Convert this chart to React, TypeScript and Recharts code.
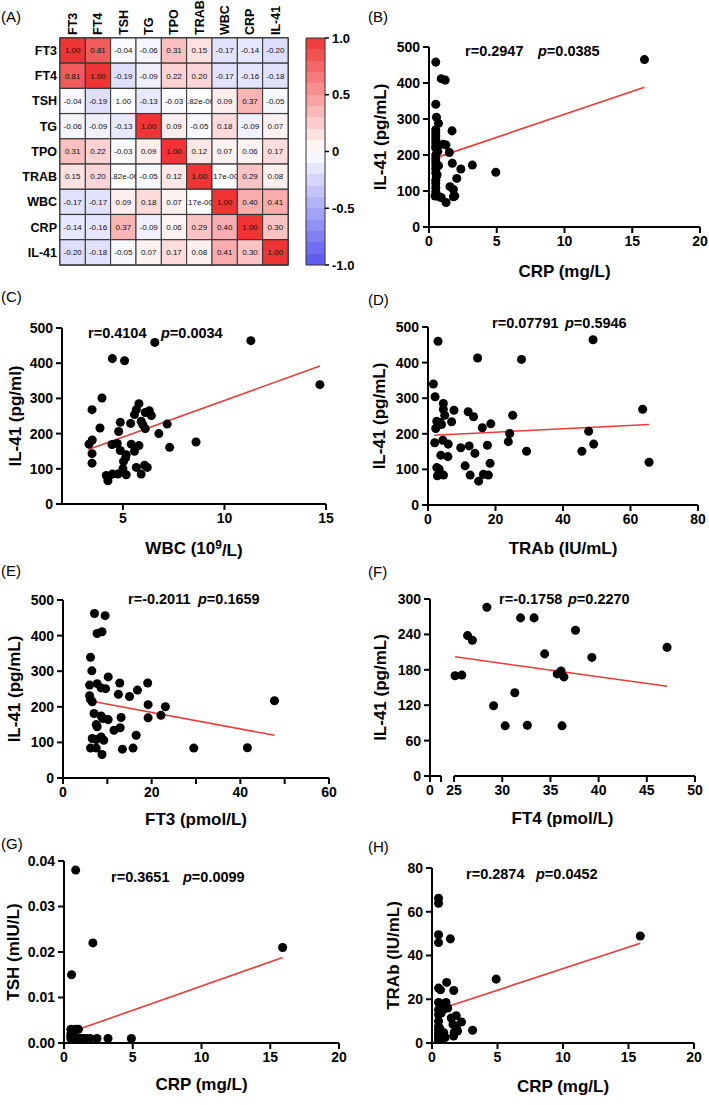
import React from 'react';
import {
  ScatterChart,
  Scatter,
  XAxis,
  YAxis,
  ReferenceLine,
  ReferenceArea,
  BarChart,
  Bar,
  Cell,
  LabelList,
} from 'recharts';

const FONT = 'Arial, "Liberation Sans", Helvetica, sans-serif';

type Pt = [number, number];

// (A) correlation matrix
const VARS = ['FT3', 'FT4', 'TSH', 'TG', 'TPO', 'TRAB', 'WBC', 'CRP', 'IL-41'];
const CORR = [
  [1.0, 0.81, -0.04, -0.06, 0.31, 0.15, -0.17, -0.14, -0.2],
  [0.81, 1.0, -0.19, -0.09, 0.22, 0.2, -0.17, -0.16, -0.18],
  [-0.04, -0.19, 1.0, -0.13, -0.03, -0.00182, 0.09, 0.37, -0.05],
  [-0.06, -0.09, -0.13, 1.0, 0.09, -0.05, 0.18, -0.09, 0.07],
  [0.31, 0.22, -0.03, 0.09, 1.0, 0.12, 0.07, 0.06, 0.17],
  [0.15, 0.2, -0.00182, -0.05, 0.12, 1.0, 0.00717, 0.29, 0.08],
  [-0.17, -0.17, 0.09, 0.18, 0.07, 0.00717, 1.0, 0.4, 0.41],
  [-0.14, -0.16, 0.37, -0.09, 0.06, 0.29, 0.4, 1.0, 0.3],
  [-0.2, -0.18, -0.05, 0.07, 0.17, 0.08, 0.41, 0.3, 1.0],
];
// the TSH/TSH cell is left uncoloured in the original
const UNCOLOURED = ['2-2'];
const SCALE_TICKS = [-1, -0.5, 0, 0.5, 1];
const SCALE_RANGE = [{ name: 'r', range: [-1, 1] }];

// (B)-(H) scatter data, [x, y]
const CRP_VS_IL41: Pt[] = [
  [0.5, 458], [15.9, 465], [0.9, 412], [1.2, 408], [0.5, 341], [0.55, 305], [0.7, 288],
  [0.5, 270], [0.5, 262], [0.5, 253], [0.5, 244], [0.5, 235], [1.7, 267], [1.05, 230], [1.25, 228],
  [0.5, 219], [0.65, 210], [1.5, 207], [0.5, 200], [0.5, 190], [0.5, 181], [0.5, 172], [0.5, 161],
  [0.5, 150], [0.55, 141], [1.72, 177], [3.2, 172], [2.35, 161], [4.93, 152], [2.05, 135],
  [0.5, 121], [0.5, 109], [0.5, 98], [1.55, 112], [1.8, 104], [0.45, 86], [0.75, 84], [0.9, 82],
  [1.9, 86], [1.8, 84], [1.26, 68], [0.6, 145], [0.5, 225], [0.5, 130], [0.7, 170],
];
const WBC_VS_IL41: Pt[] = [
  [6.57, 459], [11.3, 464], [4.48, 413], [5.08, 407], [14.7, 339], [3.97, 301], [3.48, 268],
  [5.79, 285], [5.66, 268], [5.57, 254], [6.3, 265], [6.1, 260], [6.4, 251], [5.9, 235],
  [4.87, 232], [5.38, 229], [5.98, 225], [6.1, 214], [7.18, 227], [3.87, 216], [4.79, 206],
  [6.77, 200], [3.33, 170], [3.49, 182], [4.46, 169], [4.72, 172], [5.41, 170], [5.79, 166],
  [7.3, 161], [8.6, 176], [4.87, 152], [5.57, 150], [5.16, 140], [5.13, 131], [5.03, 121],
  [3.48, 143], [3.48, 116], [5.66, 104], [6.07, 110], [6.2, 104], [5.0, 100], [4.18, 81],
  [4.48, 85], [4.75, 85], [5.16, 83], [4.26, 66], [5.9, 85], [4.3, 78],
];
const TRAB_VS_IL41: Pt[] = [
  [2.97, 460], [48.9, 464], [14.7, 413], [27.7, 409], [1.6, 340], [2.1, 304], [4.55, 285],
  [4.55, 269], [4.95, 252], [7.7, 266], [11.9, 262], [13.5, 248], [2.6, 235], [3.6, 232],
  [4.0, 226], [7.0, 234], [18.6, 228], [2.3, 215], [16.1, 217], [25.1, 252], [24.2, 201],
  [23.8, 178], [2.0, 175], [4.4, 182], [6.0, 171], [9.7, 161], [12.2, 166], [17.6, 168],
  [13.9, 145], [3.8, 140], [5.9, 136], [29.2, 151], [45.6, 151], [49.1, 171], [47.6, 207],
  [63.6, 269], [65.5, 120], [18.4, 117], [11.0, 110], [2.6, 105], [3.3, 101], [2.8, 82],
  [4.6, 84], [12.5, 84], [16.4, 86], [17.9, 84], [15.0, 67],
];
const FT3_VS_IL41: Pt[] = [
  [7.1, 462], [9.5, 456], [7.7, 406], [8.8, 411], [6.2, 339], [6.5, 301], [7.7, 265],
  [6.0, 261], [8.6, 253], [9.6, 251], [10.2, 284], [12.8, 267], [19.1, 267], [16.8, 247],
  [12.5, 235], [15.0, 229], [6.0, 231], [6.2, 221], [6.6, 214], [19.2, 206], [23.1, 200],
  [47.7, 217], [7.0, 181], [22.1, 176], [8.6, 174], [9.0, 167], [10.2, 164], [13.1, 170],
  [19.2, 169], [7.5, 150], [7.7, 144], [12.9, 141], [11.5, 134], [16.5, 120], [6.6, 111],
  [7.5, 108], [8.6, 115], [9.2, 106], [6.2, 84], [7.5, 84], [13.4, 81], [15.8, 84],
  [29.5, 84], [41.6, 85], [8.8, 66],
];
const FT4_VS_IL41: Pt[] = [
  [25.1, 170], [25.8, 171], [26.4, 238], [26.9, 230], [28.4, 286], [31.9, 268], [33.3, 268],
  [37.6, 247], [47.1, 218], [34.4, 207], [39.3, 201], [35.7, 173], [36.1, 178], [36.4, 168],
  [31.3, 141], [29.1, 119], [30.3, 85], [32.6, 86], [36.2, 85],
];
const CRP_VS_TSH: Pt[] = [
  [0.85, 0.038], [2.1, 0.022], [15.9, 0.021], [0.55, 0.015], [0.5, 0.003], [0.85, 0.003],
  [1.05, 0.003], [0.5, 0.002], [0.7, 0.002], [0.5, 0.001], [0.7, 0.001], [0.9, 0.001],
  [1.2, 0.001], [1.4, 0.001], [1.6, 0.001], [1.9, 0.001], [2.4, 0.001], [3.2, 0.001],
  [4.9, 0.001], [0.5, 0.0015], [1.1, 0.001],
];
const CRP_VS_TRAB: Pt[] = [
  [0.5, 66.2], [0.5, 63.9], [0.5, 49.5], [0.5, 45.9], [1.4, 47.6], [0.5, 25.1], [0.65, 24.3],
  [1.12, 27.7], [1.66, 24.0], [4.9, 29.2], [0.5, 18.5], [1.07, 18.5], [0.65, 16.4], [0.9, 15.5],
  [1.2, 16.0], [0.5, 15.2], [0.5, 12.9], [0.7, 13.7], [1.47, 11.4], [1.85, 12.5], [2.25, 9.6],
  [0.5, 10.0], [0.5, 7.7], [0.5, 6.2], [0.5, 4.7], [0.5, 3.2], [1.6, 8.5], [1.85, 7.0],
  [3.1, 5.8], [1.95, 5.5], [0.9, 4.7], [0.7, 3.2], [1.65, 3.2], [0.5, 2.0], [0.7, 1.5],
  [0.5, 1.0], [1.0, 2.5], [0.6, 6.5], [15.9, 48.9], [1.7, 4.8],
];

// regression line end points
const FIT_B: Pt[] = [[0.5, 192], [15.9, 388]];
const FIT_C: Pt[] = [[3.3, 155], [14.7, 392]];
const FIT_D: Pt[] = [[1.8, 196], [65.5, 226]];
const FIT_E: Pt[] = [[7.1, 214], [47.7, 120]];
const FIT_F: Pt[] = [[25.1, 202], [47.1, 152]];
const FIT_G: Pt[] = [[0.5, 0.0024], [15.9, 0.0188]];
const FIT_H: Pt[] = [[0.5, 15.3], [15.9, 45.6]];

// axis ticks
const IL41_TICKS = [0, 100, 200, 300, 400, 500];
const IL41_TICKS_F = [0, 60, 120, 180, 240, 300];
const CRP_TICKS = [0, 5, 10, 15, 20];
const WBC_TICKS = [5, 10, 15];
const TRAB_TICKS = [0, 20, 40, 60, 80];
const FT3_TICKS = [0, 10, 20, 30, 40, 50, 60];
const FT4_TICKS = [22.5, 23.65, 25, 30, 35, 40, 45, 50];
const TSH_TICKS = [0, 0.01, 0.02, 0.03, 0.04];

function corrColor(v: number) {
  const t = Math.min(1, Math.abs(v));
  const c = v >= 0 ? [238, 52, 52] : [86, 86, 238];
  const mix = c.map((k) => Math.round(255 + (k - 255) * t));
  return `rgb(${mix[0]},${mix[1]},${mix[2]})`;
}

function corrText(v: number) {
  if (v !== 0 && Math.abs(v) < 0.01) {
    const [m, e] = v.toExponential(2).split('e');
    return `${m}e${e[0]}${e.slice(1).padStart(3, '0')}`;
  }
  return v.toFixed(2);
}

const heatRows = VARS.map((name, i) => {
  const row: any = { name };
  CORR[i].forEach((v, j) => {
    row['c' + j] = 1;
    row['t' + j] = corrText(v);
  });
  return row;
});

const cellText = (p: any) => {
  const { x, y, width, height, value } = p;
  return (
    <svg x={x} y={y} width={width} height={height}>
      <text x={width / 2} y={height / 2} dy="0.35em" textAnchor="middle" fontSize={8} fill="#111" fontFamily={FONT}>
        {value}
      </text>
    </svg>
  );
};

const ColTick = (p: any) => {
  const name = VARS[Math.floor(p.payload.value)];
  return (
    <text
      transform={`translate(${p.x},${p.y}) rotate(-90)`}
      dy="0.35em"
      textAnchor="start"
      fontSize={12.5}
      fontWeight={700}
      fontFamily={FONT}
      fill="#000"
    >
      {name}
    </text>
  );
};

function Heatmap() {
  return (
    <div style={{ position: 'absolute', left: 0, top: 0 }}>
      <BarChart
        layout="vertical"
        width={300}
        height={270}
        data={heatRows}
        margin={{ top: 2, right: 12, bottom: 5, left: 2 }}
        barCategoryGap={0}
        barGap={0}
      >
        <XAxis
          type="number"
          orientation="top"
          domain={[0, 9]}
          ticks={[0.5, 1.5, 2.5, 3.5, 4.5, 5.5, 6.5, 7.5, 8.5]}
          interval={0}
          height={36}
          axisLine={false}
          tickLine={false}
          tickSize={0}
          tickMargin={3}
          tick={<ColTick />}
        />
        <YAxis
          type="category"
          dataKey="name"
          width={58}
          axisLine={false}
          tickLine={false}
          tickSize={0}
          tickMargin={3}
          interval={0}
          tick={{ fill: '#000', fontSize: 12.5, fontWeight: 700, fontFamily: FONT }}
        />
        {VARS.map((_, j) => (
          <Bar key={j} dataKey={'c' + j} stackId="m" isAnimationActive={false}>
            {heatRows.map((_r, i) => (
              <Cell
                key={i}
                fill={UNCOLOURED.includes(`${i}-${j}`) ? '#fff' : corrColor(CORR[i][j])}
                stroke="#333"
                strokeWidth={1}
              />
            ))}
            <LabelList dataKey={'t' + j} content={cellText} />
          </Bar>
        ))}
        <ReferenceArea x1={0} x2={9} fill="none" stroke="#222" strokeWidth={1.5} ifOverflow="visible" />
      </BarChart>
    </div>
  );
}

function ColorScale() {
  const bands = Array.from({ length: 20 }, (_, i) => corrColor(1 - (i + 0.5) / 10));
  return (
    <div style={{ position: 'absolute', left: 300, top: 30 }}>
      <BarChart width={60} height={243} data={SCALE_RANGE} margin={{ top: 8, right: 0, bottom: 8, left: 6 }} barCategoryGap={0}>
        <defs>
          <linearGradient id="scaleFill" x1="0" y1="0" x2="0" y2="1">
            {bands.map((c, i) => [
              <stop key={'a' + i} offset={i / 20} stopColor={c} />,
              <stop key={'b' + i} offset={(i + 1) / 20} stopColor={c} />,
            ])}
          </linearGradient>
        </defs>
        <XAxis dataKey="name" hide />
        <YAxis
          orientation="right"
          type="number"
          domain={[-1, 1]}
          ticks={SCALE_TICKS}
          interval={0}
          width={35}
          axisLine={false}
          tickLine={{ stroke: '#000', strokeWidth: 1.5 }}
          tickSize={4}
          tickMargin={3}
          tickFormatter={(v: number) => (v === 0 ? '0' : v.toFixed(1))}
          tick={{ fill: '#000', fontSize: 13, fontWeight: 700, fontFamily: FONT }}
        />
        <Bar dataKey="range" fill="url(#scaleFill)" stroke="#333" strokeWidth={1} isAnimationActive={false} />
      </BarChart>
    </div>
  );
}

function titleParts(text: string) {
  const parts = text.split(/\^(\d)/);
  return parts.map((s, i) =>
    i % 2 === 1 ? (
      <tspan key={i} dy="-0.45em" fontSize="0.7em">{s}</tspan>
    ) : (
      <tspan key={i} dy={i > 0 ? '0.45em' : undefined}>{s}</tspan>
    ),
  );
}

const xTitle = (text: string) => (p: any) => {
  const vb = p.viewBox;
  if (!vb) return null;
  const cx = vb.x + vb.width / 2;
  const cy = vb.y + vb.height / 2;
  return (
    <text x={cx} y={cy} dy="0.35em" textAnchor="middle" fontSize={17} fontWeight={700} fontFamily={FONT} fill="#000">
      {titleParts(text)}
    </text>
  );
};

const yTitle = (text: string) => (p: any) => {
  const vb = p.viewBox;
  if (!vb) return null;
  const cx = vb.x + vb.width / 2;
  const cy = vb.y + vb.height / 2;
  return (
    <text
      x={cx}
      y={cy}
      dy="0.35em"
      transform={`rotate(-90 ${cx} ${cy})`}
      textAnchor="middle"
      fontSize={17}
      fontWeight={700}
      fontFamily={FONT}
      fill="#000"
    >
      {text}
    </text>
  );
};

interface PanelSpec {
  tag: string;
  pts: Pt[];
  fit: Pt[];
  stat: [string, string];
  xTitle: string;
  yTitle: string;
  xDomain: [number, number];
  xTicks: number[];
  xFmt?: (v: number) => string;
  yDomain: [number, number];
  yTicks: number[];
  yFmt?: (v: number) => string;
  plot: { x0: number; x1: number; y0: number; y1: number };
  yTitleX: number;
  xTitleY: number;
  tagPos: [number, number];
  statPos: [number, number, number];
  brokenX?: [number, number, number];
}

const PANELS: PanelSpec[] = [
  {
    tag: '(B)', pts: CRP_VS_IL41, fit: FIT_B, stat: ['0.2947', '0.0385'],
    xTitle: 'CRP (mg/L)', yTitle: 'IL-41 (pg/mL)',
    xDomain: [0, 20], xTicks: CRP_TICKS, yDomain: [0, 500], yTicks: IL41_TICKS,
    plot: { x0: 429, x1: 700, y0: 47, y1: 227 }, yTitleX: 380, xTitleY: 271,
    tagPos: [368, 22], statPos: [465, 538, 56],
  },
  {
    tag: '(C)', pts: WBC_VS_IL41, fit: FIT_C, stat: ['0.4104', '0.0034'],
    xTitle: 'WBC (10^9/L)', yTitle: 'IL-41 (pg/ml)',
    xDomain: [2, 15], xTicks: WBC_TICKS, yDomain: [0, 500], yTicks: IL41_TICKS,
    plot: { x0: 62, x1: 326, y0: 328, y1: 504 }, yTitleX: 15, xTitleY: 548,
    tagPos: [1, 302], statPos: [88, 161, 338],
  },
  {
    tag: '(D)', pts: TRAB_VS_IL41, fit: FIT_D, stat: ['0.07791', '0.5946'],
    xTitle: 'TRAb (IU/mL)', yTitle: 'IL-41 (pg/mL)',
    xDomain: [0, 80], xTicks: TRAB_TICKS, yDomain: [0, 500], yTicks: IL41_TICKS,
    plot: { x0: 428, x1: 698, y0: 327, y1: 505 }, yTitleX: 379, xTitleY: 548,
    tagPos: [368, 305], statPos: [492, 565, 328],
  },
  {
    tag: '(E)', pts: FT3_VS_IL41, fit: FIT_E, stat: ['-0.2011', '0.1659'],
    xTitle: 'FT3 (pmol/L)', yTitle: 'IL-41 (pg/mL)',
    xDomain: [0, 60], xTicks: FT3_TICKS, xFmt: (v) => (v % 20 === 0 ? String(v) : ''),
    yDomain: [0, 500], yTicks: IL41_TICKS,
    plot: { x0: 63, x1: 329, y0: 600, y1: 778 }, yTitleX: 14, xTitleY: 819,
    tagPos: [1, 576], statPos: [128, 198, 604],
  },
  {
    tag: '(F)', pts: FT4_VS_IL41, fit: FIT_F, stat: ['-0.1758', '0.2270'],
    xTitle: 'FT4 (pmol/L)', yTitle: 'IL-41 (pg/mL)',
    xDomain: [22.5, 50], xTicks: FT4_TICKS, xFmt: (v) => (v < 23 ? '0' : v < 24.9 ? '' : String(v)),
    yDomain: [0, 300], yTicks: IL41_TICKS_F,
    plot: { x0: 430, x1: 695, y0: 599, y1: 776 }, yTitleX: 380, xTitleY: 818,
    tagPos: [368, 577], statPos: [499, 568, 604], brokenX: [22.5, 23.65, 25],
  },
  {
    tag: '(G)', pts: CRP_VS_TSH, fit: FIT_G, stat: ['0.3651', '0.0099'],
    xTitle: 'CRP (mg/L)', yTitle: 'TSH (mIU/L)',
    xDomain: [0, 20], xTicks: CRP_TICKS, yDomain: [0, 0.04], yTicks: TSH_TICKS,
    yFmt: (v) => v.toFixed(2),
    plot: { x0: 64, x1: 339, y0: 861, y1: 1043 }, yTitleX: 13, xTitleY: 1084,
    tagPos: [1, 849], statPos: [111, 183, 882],
  },
  {
    tag: '(H)', pts: CRP_VS_TRAB, fit: FIT_H, stat: ['0.2874', '0.0452'],
    xTitle: 'CRP (mg/L)', yTitle: 'TRAb (IU/mL)',
    xDomain: [0, 20], xTicks: CRP_TICKS, yDomain: [0, 80], yTicks: TRAB_TICKS,
    plot: { x0: 432, x1: 694, y0: 868, y1: 1043 }, yTitleX: 393, xTitleY: 1086,
    tagPos: [368, 852], statPos: [466, 536, 879],
  },
];

const AXIS = { stroke: '#000', strokeWidth: 2 };
const TICK = { fill: '#000', fontSize: 14, fontWeight: 700, fontFamily: FONT };

function ScatterPanel({ s }: { s: PanelSpec }) {
  const { plot } = s;
  const yW = 2 * (plot.x0 - s.yTitleX);
  const xH = 2 * (s.xTitleY - plot.y1);
  const m = { top: 12, right: 14, bottom: 4, left: 4 };
  const left = plot.x0 - yW - m.left;
  const top = plot.y0 - m.top;
  const width = plot.x1 + m.right - left;
  const height = plot.y1 + xH + m.bottom - top;
  const data = s.pts.map(([x, y]) => ({ x, y }));
  const b = s.brokenX;
  return (
    <div style={{ position: 'absolute', left, top }}>
      <ScatterChart width={width} height={height} margin={m}>
        <XAxis
          type="number"
          dataKey="x"
          domain={s.xDomain}
          ticks={s.xTicks}
          interval={0}
          allowDataOverflow
          height={xH}
          tickFormatter={s.xFmt}
          tick={TICK}
          tickSize={6}
          tickMargin={3}
          tickLine={AXIS}
          axisLine={b ? false : AXIS}
          label={xTitle(s.xTitle)}
        />
        <YAxis
          type="number"
          dataKey="y"
          domain={s.yDomain}
          ticks={s.yTicks}
          interval={0}
          allowDataOverflow
          width={yW}
          tickFormatter={s.yFmt}
          tick={TICK}
          tickSize={6}
          tickMargin={3}
          tickLine={AXIS}
          axisLine={AXIS}
          label={yTitle(s.yTitle)}
        />
        {b && (
          <ReferenceLine segment={[{ x: b[0], y: 0 }, { x: b[1], y: 0 }]} stroke="#000" strokeWidth={2} ifOverflow="visible" />
        )}
        {b && (
          <ReferenceLine segment={[{ x: b[2], y: 0 }, { x: s.xDomain[1], y: 0 }]} stroke="#000" strokeWidth={2} ifOverflow="visible" />
        )}
        <ReferenceLine
          segment={[{ x: s.fit[0][0], y: s.fit[0][1] }, { x: s.fit[1][0], y: s.fit[1][1] }]}
          stroke="#f03a3a"
          strokeWidth={1.6}
          ifOverflow="visible"
        />
        <Scatter data={data} fill="#000" isAnimationActive={false} />
      </ScatterChart>
    </div>
  );
}

export default function App() {
  return (
    <div
      style={{
        position: 'absolute',
        left: 0,
        top: 0,
        width: 709,
        height: 1105,
        background: '#fff',
        fontFamily: FONT,
        overflow: 'hidden',
      }}
    >
      <Heatmap />
      <ColorScale />
      {PANELS.map((s) => (
        <ScatterPanel key={s.tag} s={s} />
      ))}
      <svg width={709} height={1105} style={{ position: 'absolute', left: 0, top: 0, pointerEvents: 'none' }} fontFamily={FONT}>
        <text x={1} y={22} fontSize={15} fill="#000">(A)</text>
        {PANELS.map((s) => (
          <g key={s.tag}>
            <text x={s.tagPos[0]} y={s.tagPos[1]} fontSize={15} fill="#000">{s.tag}</text>
            <text x={s.statPos[0]} y={s.statPos[2]} fontSize={14.5} fontWeight={700} fill="#000">
              r={s.stat[0]}
            </text>
            <text x={s.statPos[1]} y={s.statPos[2]} fontSize={14.5} fontWeight={700} fill="#000">
              <tspan fontStyle="italic">p</tspan>={s.stat[1]}
            </text>
          </g>
        ))}
      </svg>
    </div>
  );
}
